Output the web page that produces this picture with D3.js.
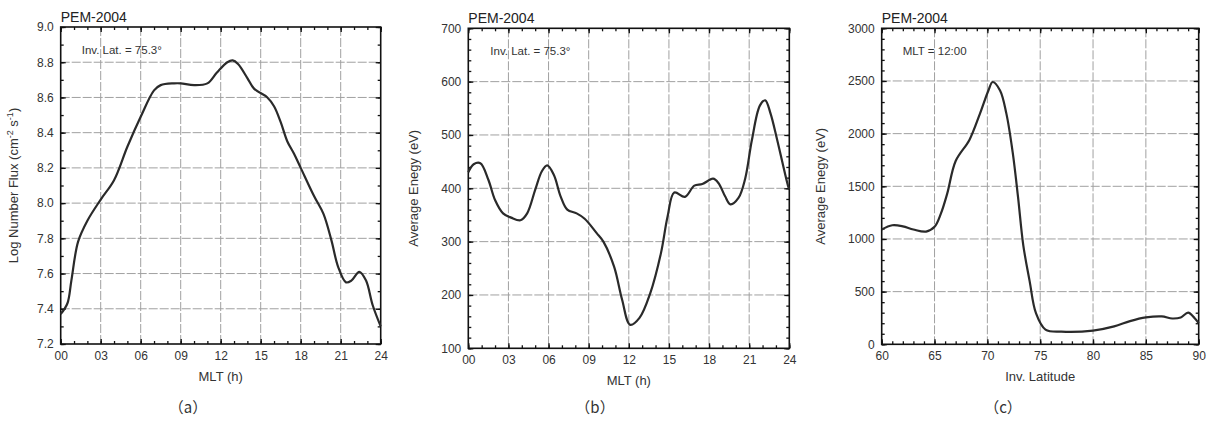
<!DOCTYPE html>
<html>
<head>
<meta charset="utf-8">
<script src="https://cdn.jsdelivr.net/npm/d3@7"></script>
<style>
  body { margin: 0; background: #fff; }
  svg { display: block; font-family: "Liberation Sans", Arial, sans-serif; }
</style>
</head>
<body>
<svg id="chart" width="1211" height="423"></svg>
<script>
// panel (a): log number flux vs MLT
const mltA = [0, 0.5, 0.8, 1.3, 2.0, 3.0, 4.0, 5.0, 6.0, 7.0, 7.5, 8.5, 9.0, 10.0, 11.0, 11.7, 12.5, 12.9, 13.3, 14.0, 14.5, 15.5, 16.0, 16.5, 17.0, 17.5, 18.0, 19.0, 19.7, 20.3, 20.8, 21.4, 21.8, 22.4, 22.9, 23.4, 24];
const fluxA = [7.37, 7.43, 7.56, 7.78, 7.90, 8.02, 8.13, 8.32, 8.49, 8.64, 8.67, 8.68, 8.68, 8.67, 8.68, 8.74, 8.80, 8.81, 8.79, 8.71, 8.65, 8.60, 8.55, 8.46, 8.35, 8.28, 8.20, 8.04, 7.94, 7.79, 7.64, 7.55, 7.56, 7.61, 7.56, 7.42, 7.30];

// panel (b): average energy vs MLT
const mltB = [0, 0.4, 0.9, 1.5, 2.0, 2.6, 3.2, 3.9, 4.4, 5.0, 5.5, 5.9, 6.4, 6.9, 7.4, 8.1, 8.7, 9.6, 10.1, 10.9, 11.5, 12.1, 12.8, 13.6, 14.4, 14.9, 15.4, 16.2, 16.9, 17.5, 18.3, 18.7, 19.2, 19.6, 20.2, 20.7, 21.2, 21.8, 22.2, 22.6, 23.1, 23.9, 24];
const energyB = [430, 445, 447, 416, 378, 353, 345, 340, 353, 397, 432, 443, 425, 385, 360, 353, 343, 316, 300, 253, 191, 144, 157, 203, 278, 347, 392, 384, 405, 408, 418, 410, 385, 370, 382, 418, 490, 555, 565, 540, 490, 405, 398];

// panel (c): average energy vs invariant latitude
const latC = [60, 61, 62, 63, 64.2, 65, 65.6, 66.2, 67, 68.3, 69.3, 70.1, 70.5, 71.2, 71.8, 72.4, 72.9, 73.4, 74, 74.6, 75.5, 77, 80, 82, 83.5, 85, 86.5, 87.5, 88.3, 89, 89.6, 90];
const energyC = [1090, 1130, 1120, 1090, 1070, 1115, 1240, 1430, 1740, 1940, 2190, 2410, 2490, 2410, 2190, 1820, 1400, 940, 600, 295, 140, 120, 130, 170, 220, 255, 265, 245, 255, 300, 250, 200];

const mltTicks = [0, 3, 6, 9, 12, 15, 18, 21, 24];
const latTicks = [60, 65, 70, 75, 80, 85, 90];
const fluxTicks = [7.2, 7.4, 7.6, 7.8, 8.0, 8.2, 8.4, 8.6, 8.8, 9.0];
const energyBTicks = [100, 200, 300, 400, 500, 600, 700];
const energyCTicks = [0, 500, 1000, 1500, 2000, 2500, 3000];

const svg = d3.select("#chart");

function step(lo, hi, s) {
  const n = Math.round((hi - lo) / s);
  return d3.range(n + 1).map(i => +(lo + i * s).toFixed(4));
}

function drawPanel(p) {
  const g = svg.append("g").attr("transform", `translate(${p.left},${p.top})`);
  const x = d3.scaleLinear().domain(p.xDomain).range([0, p.width]);
  const y = d3.scaleLinear().domain(p.yDomain).range([p.height, 0]);

  // dashed grid
  g.append("g").selectAll("line")
    .data(p.xTicks.slice(1, -1))
    .join("line")
    .attr("x1", d => x(d)).attr("x2", d => x(d))
    .attr("y1", 0).attr("y2", p.height)
    .attr("stroke", "#a0a0a0").attr("stroke-width", 1)
    .attr("stroke-dasharray", "9,2");
  g.append("g").selectAll("line")
    .data(p.yTicks.slice(1, -1))
    .join("line")
    .attr("y1", d => y(d)).attr("y2", d => y(d))
    .attr("x1", 0).attr("x2", p.width)
    .attr("stroke", "#a0a0a0").attr("stroke-width", 1)
    .attr("stroke-dasharray", "9,2");

  // axes with inward ticks
  const styleAxis = sel => {
    sel.select(".domain").remove();
    sel.selectAll(".tick line").attr("stroke", "#111").attr("stroke-width", 1.3);
    sel.selectAll("text").attr("fill", "#333").attr("font-size", 12);
  };
  const minorX = step(p.xDomain[0], p.xDomain[1], p.xMinor);
  const minorY = step(p.yDomain[0], p.yDomain[1], p.yMinor);

  g.append("g").attr("transform", `translate(0,${p.height})`)
    .call(d3.axisBottom(x).tickValues(p.xTicks).tickSize(-5).tickPadding(7).tickFormat(p.xFormat))
    .call(styleAxis);
  g.append("g").attr("transform", `translate(0,${p.height})`)
    .call(d3.axisBottom(x).tickValues(minorX).tickSize(-3).tickFormat(""))
    .call(styleAxis);
  g.append("g")
    .call(d3.axisTop(x).tickValues(p.xTicks).tickSize(-5).tickFormat(""))
    .call(styleAxis);
  g.append("g")
    .call(d3.axisTop(x).tickValues(minorX).tickSize(-3).tickFormat(""))
    .call(styleAxis);

  g.append("g")
    .call(d3.axisLeft(y).tickValues(p.yTicks).tickSize(-5).tickPadding(7).tickFormat(p.yFormat))
    .call(styleAxis);
  g.append("g")
    .call(d3.axisLeft(y).tickValues(minorY).tickSize(-3).tickFormat(""))
    .call(styleAxis);
  g.append("g").attr("transform", `translate(${p.width},0)`)
    .call(d3.axisRight(y).tickValues(p.yTicks).tickSize(-5).tickFormat(""))
    .call(styleAxis);
  g.append("g").attr("transform", `translate(${p.width},0)`)
    .call(d3.axisRight(y).tickValues(minorY).tickSize(-3).tickFormat(""))
    .call(styleAxis);

  // frame
  g.append("rect")
    .attr("width", p.width).attr("height", p.height)
    .attr("fill", "none").attr("stroke", "#111").attr("stroke-width", 1.6);

  // curve
  const line = d3.line()
    .x((d, i) => x(p.xs[i]))
    .y(d => y(d))
    .curve(d3.curveCatmullRom.alpha(0.5));
  g.append("path")
    .datum(p.ys)
    .attr("d", line)
    .attr("fill", "none")
    .attr("stroke", "#2a2a2a")
    .attr("stroke-width", 2.2);

  // texts
  g.append("text").attr("x", 0).attr("y", -5)
    .attr("font-size", 14).attr("fill", "#222").text("PEM-2004");
  g.append("text").attr("x", p.noteX).attr("y", 27)
    .attr("font-size", 11.5).attr("fill", "#333").text(p.note);

  g.append("text")
    .attr("x", p.width / 2).attr("y", p.height + 37)
    .attr("text-anchor", "middle").attr("font-size", 13).attr("fill", "#333")
    .text(p.xLabel);

  const yl = g.append("text")
    .attr("transform", `translate(${p.yLabelX},${p.height / 2}) rotate(-90)`)
    .attr("text-anchor", "middle").attr("font-size", 13).attr("fill", "#333");
  p.yLabel.forEach(part => {
    const t = yl.append("tspan").text(part.t);
    if (part.sup) t.attr("baseline-shift", "super").attr("font-size", 9);
  });

  svg.append("text")
    .attr("x", p.capX).attr("y", 413)
    .attr("text-anchor", "middle").attr("font-size", 15).attr("fill", "#333")
    .attr("font-family", "'Noto Sans CJK SC', sans-serif")
    .text(p.caption);
}

drawPanel({
  left: 60.7, top: 27, width: 320, height: 317,
  xDomain: [0, 24], yDomain: [7.2, 9.0],
  xTicks: mltTicks, yTicks: fluxTicks, xMinor: 1, yMinor: 0.1,
  xFormat: d3.format("02d"), yFormat: d3.format(".1f"),
  xs: mltA, ys: fluxA,
  note: "Inv. Lat. = 75.3°", noteX: 21,
  xLabel: "MLT (h)",
  yLabel: [{ t: "Log Number Flux (cm" }, { t: "-2", sup: true }, { t: " s" }, { t: "-1", sup: true }, { t: ")" }],
  yLabelX: -43, caption: "（a）", capX: 188
});

drawPanel({
  left: 468.3, top: 28.3, width: 321, height: 320,
  xDomain: [0, 24], yDomain: [100, 700],
  xTicks: mltTicks, yTicks: energyBTicks, xMinor: 1, yMinor: 20,
  xFormat: d3.format("02d"), yFormat: d3.format("d"),
  xs: mltB, ys: energyB,
  note: "Inv. Lat. = 75.3°", noteX: 22,
  xLabel: "MLT (h)",
  yLabel: [{ t: "Average Enegy (eV)" }],
  yLabelX: -50, caption: "（b）", capX: 595
});

drawPanel({
  left: 881.7, top: 28.3, width: 317, height: 316,
  xDomain: [60, 90], yDomain: [0, 3000],
  xTicks: latTicks, yTicks: energyCTicks, xMinor: 1, yMinor: 100,
  xFormat: d3.format("d"), yFormat: d3.format("d"),
  xs: latC, ys: energyC,
  note: "MLT = 12:00", noteX: 21,
  xLabel: "Inv. Latitude",
  yLabel: [{ t: "Average Enegy (eV)" }],
  yLabelX: -57, caption: "（c）", capX: 1003
});
</script>
</body>
</html>
